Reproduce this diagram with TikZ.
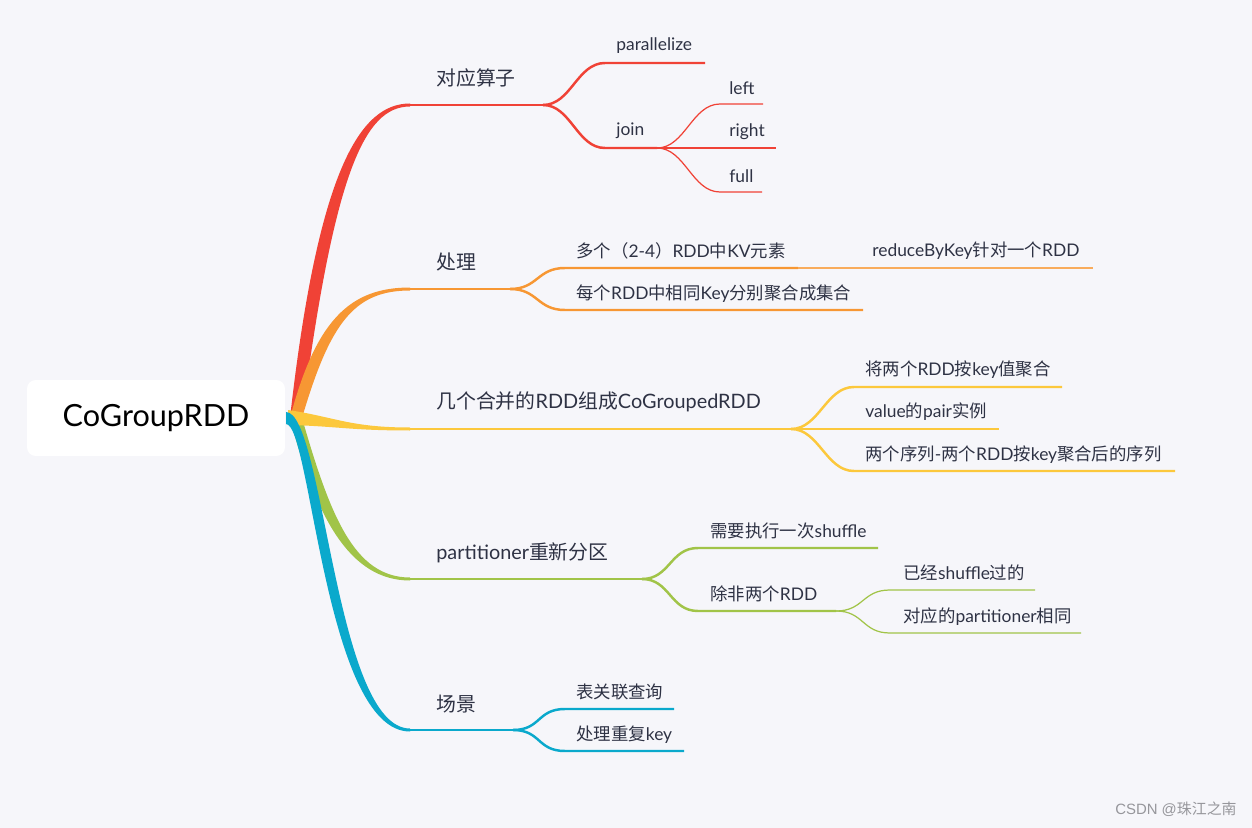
\documentclass[tikz,border=0pt]{standalone}
\usepackage{fontspec}
\setmainfont{Lato}
\newfontfamily\zh{Noto Sans CJK SC}
\newfontfamily\wm{Liberation Sans}
\usetikzlibrary{positioning}
\definecolor{bgGray}{RGB}{246,246,250}
\definecolor{txtDark}{RGB}{46,50,68}
\definecolor{wmGray}{RGB}{150,150,155}
\definecolor{brRed}{RGB}{240,66,54}
\definecolor{brOrange}{RGB}{247,151,51}
\definecolor{brYellow}{RGB}{252,200,60}
\definecolor{brGreen}{RGB}{161,196,72}
\definecolor{brBlue}{RGB}{10,169,204}
\tikzset{
  rootBox/.style={rectangle,rounded corners=5pt,fill=white,text=black,
                  minimum width=5.16cm,minimum height=1.52cm,inner sep=0pt,
                  font=\fontsize{17.4}{20}\selectfont},
  mainLbl/.style={anchor=west,inner sep=0pt,text=txtDark,font=\fontsize{11.3}{13}\selectfont},
  subLbl/.style={anchor=west,inner sep=0pt,text=txtDark,font=\fontsize{9.9}{12}\selectfont},
  lvOne/.style={draw=#1,line width=1.6pt},
  lvTwo/.style={draw=#1,line width=1.4pt},
  lvThree/.style={draw=#1,line width=0.7pt},
}

\begin{document}
\begin{tikzpicture}[x=0.02cm,y=-0.02cm]
  \useasboundingbox[fill=bgGray] (0,0) rectangle (1252,828);
  % tapered main branches
  \fill[brRed] (290,418) .. controls (318,170) and (360,103.5) .. (410,103.5)
    -- (410,106.5) .. controls (364,106.5) and (334,174) .. (302,418) -- cycle;
  \fill[brOrange] (290,418) .. controls (316,320) and (350,287.5) .. (410,287.5)
    -- (410,290.5) .. controls (354,290.5) and (330,323) .. (302,418) -- cycle;
  \fill[brGreen] (302,418) .. controls (330,515) and (354,577.5) .. (410,577.5)
    -- (410,580.5) .. controls (350,580.5) and (316,518) .. (290,418) -- cycle;
  \fill[brYellow] (288,410) .. controls (335,417) and (350,427.5) .. (410,427.5)
    -- (410,430.5) .. controls (350,430.5) and (335,426) .. (288,425) -- cycle;
  \fill[brBlue] (286,412) .. controls (324,412) and (335,728.5) .. (410,728.5)
    -- (410,731.5) .. controls (325,731.5) and (311,424) .. (286,424) -- cycle;
  % branch points
  \coordinate (opA) at (410,105);   \coordinate (opB) at (543,105);
  \coordinate (parA) at (605,63);   \coordinate (parB) at (705,63);
  \coordinate (joinA) at (605,148); \coordinate (joinB) at (657,148);
  \coordinate (leftA) at (720,104); \coordinate (leftB) at (763,104);
  \coordinate (rightB) at (776,148);
  \coordinate (fullA) at (720,192); \coordinate (fullB) at (762,192);
  \coordinate (procA) at (410,289); \coordinate (procB) at (510,289);
  \coordinate (kvA) at (565,268);   \coordinate (kvB) at (798,268);
  \coordinate (rbkB) at (1093,268);
  \coordinate (aggA) at (565,310);  \coordinate (aggB) at (863,310);
  \coordinate (mrgA) at (410,429);  \coordinate (mrgB) at (791,429);
  \coordinate (keyA) at (854,387);  \coordinate (keyB) at (1062,387);
  \coordinate (pairB) at (999,429);
  \coordinate (seqA) at (854,471);  \coordinate (seqB) at (1175,471);
  \coordinate (partA) at (410,579); \coordinate (partB) at (642,579);
  \coordinate (shufA) at (698,548); \coordinate (shufB) at (878,548);
  \coordinate (unlA) at (698,611);  \coordinate (unlB) at (836,611);
  \coordinate (doneA) at (890,590); \coordinate (doneB) at (1035,590);
  \coordinate (sameA) at (890,633); \coordinate (sameB) at (1081,633);
  \coordinate (scnA) at (410,730);  \coordinate (scnB) at (513,730);
  \coordinate (tblA) at (565,709);  \coordinate (tblB) at (674,709);
  \coordinate (dupA) at (565,751);  \coordinate (dupB) at (684,751);
  % connectors
  \foreach \a/\b/\c in {opA/opB/brRed,procA/procB/brOrange,mrgA/mrgB/brYellow,
                        partA/partB/brGreen,scnA/scnB/brBlue}{\draw[lvOne=\c](\a)--(\b);}
  \foreach \f/\a/\b/\c in {opB/parA/parB/brRed,opB/joinA/joinB/brRed,
      procB/kvA/kvB/brOrange,procB/aggA/aggB/brOrange,
      mrgB/keyA/keyB/brYellow,mrgB/seqA/seqB/brYellow,
      partB/shufA/shufB/brGreen,partB/unlA/unlB/brGreen,
      scnB/tblA/tblB/brBlue,scnB/dupA/dupB/brBlue}{
    \draw[lvTwo=\c](\f) .. controls +(28,0) and +(-28,0) .. (\a)--(\b);}
  \draw[lvTwo=brYellow](mrgB)--(pairB);
  \foreach \f/\a/\b/\c in {joinB/leftA/leftB/brRed,joinB/fullA/fullB/brRed,
      unlB/doneA/doneB/brGreen,unlB/sameA/sameB/brGreen}{
    \draw[lvThree=\c](\f) .. controls +(28,0) and +(-28,0) .. (\a)--(\b);}
  \draw[lvThree=brRed](joinB)--(rightB);
  \draw[lvThree=brOrange!80](kvB)--(rbkB);
  % root
  \node[rootBox](root) at (156,418){CoGroupRDD};
  % labels
  \node[mainLbl](opLbl) at (436,78){\zh 对应算子};
  \node[subLbl](parLbl) at (616,46){parallelize};
  \node[subLbl](joinLbl) at (616,131){join};
  \node[subLbl](leftLbl) at (729,88){left};
  \node[subLbl](rightLbl) at (729,132){right};
  \node[subLbl](fullLbl) at (729,176){full};
  \node[mainLbl](procLbl) at (436,262){\zh 处理};
  \node[subLbl](kvLbl) at (576,251){{\zh 多个（}2-4{\zh ）}RDD{\zh 中}KV{\zh 元素}};
  \node[subLbl](rbkLbl) at (872,251){reduceByKey{\zh 针对一个}RDD};
  \node[subLbl](aggLbl) at (576,294){{\zh 每个}RDD{\zh 中相同}Key{\zh 分别聚合成集合}};
  \node[mainLbl](mrgLbl) at (436,402){{\zh 几个合并的}RDD{\zh 组成}CoGroupedRDD};
  \node[subLbl](keyLbl) at (865,370){{\zh 将两个}RDD{\zh 按}key{\zh 值聚合}};
  \node[subLbl](pairLbl) at (865,412){value{\zh 的}pair{\zh 实例}};
  \node[subLbl](seqLbl) at (865,455){{\zh 两个序列}-{\zh 两个}RDD{\zh 按}key{\zh 聚合后的序列}};
  \node[mainLbl](partLbl) at (436,553){partitioner{\zh 重新分区}};
  \node[subLbl](shufLbl) at (710,531){{\zh 需要执行一次}shuffle};
  \node[subLbl](unlLbl) at (710,594){{\zh 除非两个}RDD};
  \node[subLbl](doneLbl) at (903,573){{\zh 已经}shuffle{\zh 过的}};
  \node[subLbl](sameLbl) at (903,617){{\zh 对应的}partitioner{\zh 相同}};
  \node[mainLbl](scnLbl) at (436,704){\zh 场景};
  \node[subLbl](tblLbl) at (576,692){\zh 表关联查询};
  \node[subLbl](dupLbl) at (576,735){{\zh 处理重复}key};
  \node[anchor=east,inner sep=0pt,text=wmGray,font=\wm\fontsize{8.5}{10}\selectfont](wmark)
    at (1237,809){CSDN @{\zh 珠江之南}};
\end{tikzpicture}
\end{document}
